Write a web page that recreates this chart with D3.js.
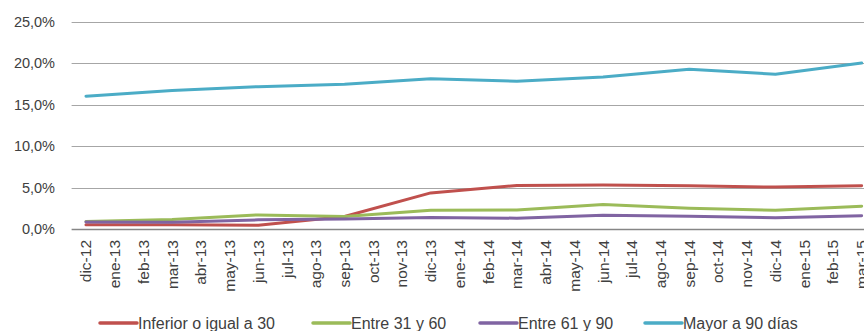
<!DOCTYPE html>
<html>
<head>
<meta charset="utf-8">
<script src="https://cdn.jsdelivr.net/npm/d3@7"></script>
<style>
  body { margin: 0; background: #fff; }
  svg text { font-family: "Liberation Sans", Arial, sans-serif; fill: #404040; }
</style>
</head>
<body>
<svg id="here"></svg>
<script>
const months = ["dic-12","ene-13","feb-13","mar-13","abr-13","may-13","jun-13","jul-13","ago-13","sep-13","oct-13","nov-13","dic-13","ene-14","feb-14","mar-14","abr-14","may-14","jun-14","jul-14","ago-14","sep-14","oct-14","nov-14","dic-14","ene-15","feb-15","mar-15"];
// quarterly observations
const quarters = ["dic-12","mar-13","jun-13","sep-13","dic-13","mar-14","jun-14","sep-14","dic-14","mar-15"];
const inferior30 = [0.5, 0.5, 0.45, 1.5, 4.35, 5.25, 5.3, 5.2, 5.05, 5.2];
const entre31_60 = [0.9, 1.15, 1.7, 1.5, 2.25, 2.3, 2.95, 2.5, 2.25, 2.75];
const entre61_90 = [0.85, 0.8, 1.1, 1.2, 1.4, 1.3, 1.65, 1.55, 1.35, 1.6];
const mayor90 = [16.0, 16.7, 17.15, 17.45, 18.1, 17.8, 18.3, 19.25, 18.65, 20.0];
const yTicks = [0, 5, 10, 15, 20, 25];

const series = [
  {name: "Inferior o igual a 30", values: inferior30, color: "#C0504D"},
  {name: "Entre 31 y 60", values: entre31_60, color: "#9BBB59"},
  {name: "Entre 61 y 90", values: entre61_90, color: "#8064A2"},
  {name: "Mayor a 90 días", values: mayor90, color: "#4BACC6"}
];

const width = 864, height = 331;
const margin = {top: 21.5, right: -12, bottom: 102, left: 71.6};

const svg = d3.select("#here").attr("width", width).attr("height", height);

const x = d3.scaleBand().domain(months).range([margin.left, width - margin.right]);
const y = d3.scaleLinear().domain([0, 25]).range([height - margin.bottom, margin.top]);

// gridlines
svg.append("g").selectAll("line")
  .data(yTicks.filter(d => d > 0))
  .enter().append("line")
  .attr("x1", margin.left).attr("x2", width)
  .attr("y1", d => Math.round(y(d)) + 0.5).attr("y2", d => Math.round(y(d)) + 0.5)
  .attr("stroke", "#A6A6A6").attr("stroke-width", 1);

// y labels
svg.append("g").selectAll("text")
  .data(yTicks)
  .enter().append("text")
  .attr("x", 55).attr("y", d => y(d) + 5)
  .attr("text-anchor", "end")
  .style("font-size", "14.5px")
  .text(d => d3.format(".1f")(d).replace(".", ",") + "%");

// x labels
svg.append("g").selectAll("text")
  .data(months)
  .enter().append("text")
  .attr("transform", d => `translate(${x(d) + x.bandwidth() / 2 + 5.5},${y(0) + 11}) rotate(-90)`)
  .attr("text-anchor", "end")
  .style("font-size", "15.5px")
  .text(d => d);

// lines
const line = d3.line()
  .x((d, i) => x(quarters[i]) + x.bandwidth() / 2)
  .y(d => y(d));

svg.append("g").selectAll("path")
  .data(series)
  .enter().append("path")
  .attr("fill", "none")
  .attr("stroke", d => d.color)
  .attr("stroke-width", 3)
  .attr("stroke-linejoin", "round")
  .attr("stroke-linecap", "round")
  .attr("d", d => line(d.values));

// axis line
svg.append("line")
  .attr("x1", margin.left).attr("x2", width)
  .attr("y1", Math.round(y(0)) + 0.5).attr("y2", Math.round(y(0)) + 0.5)
  .attr("stroke", "#868686").attr("stroke-width", 1.5);

// legend
const legendX = [100, 313, 480, 645];
const legend = svg.append("g").selectAll("g")
  .data(series)
  .enter().append("g")
  .attr("transform", (d, i) => `translate(${legendX[i]},323)`);
legend.append("line")
  .attr("x1", 0).attr("x2", 37).attr("y1", 0).attr("y2", 0)
  .attr("stroke", d => d.color).attr("stroke-width", 3.5)
  .attr("stroke-linecap", "round");
legend.append("text")
  .attr("x", 38).attr("y", 5.5)
  .style("font-size", "16px")
  .text(d => d.name);
</script>
</body>
</html>
